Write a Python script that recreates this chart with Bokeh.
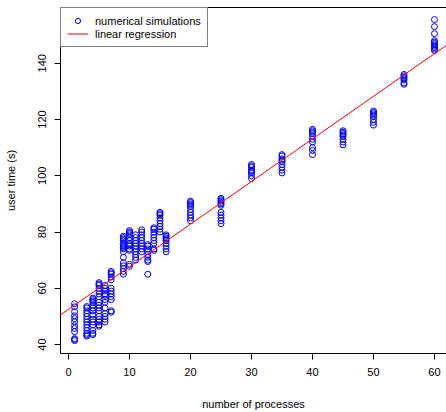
from bokeh.plotting import figure
from bokeh.models import Range1d, FixedTicker, Slope, Legend, LegendItem, ColumnDataSource, LinearAxis
from bokeh.embed import file_html
from bokeh.resources import INLINE

# ---- data ----
processes = [1, 3, 4, 5, 6, 7, 9, 10, 11, 12, 13, 14, 15, 16, 20, 25, 30, 35, 40, 45, 50, 55, 60]
user_times = [
    [54.5, 53.4, 51.7, 50.2, 49.2, 48.1, 46.7, 45.7, 44.6, 42.1, 41.8, 41.4],             # 1
    [53.5, 53, 52, 51, 50, 49, 48, 47, 46, 45, 44, 43.5, 43],                             # 3
    [56.5, 56, 55.5, 55, 54, 53, 52, 50.5, 49, 48, 47, 45, 44, 43.5],                     # 4
    [62, 61.5, 61, 60, 59, 58, 57, 55, 54, 53, 52, 50, 49, 48, 47, 46.5],                 # 5
    [61, 60, 59, 58, 57.5, 56, 55, 53, 51, 50, 49, 48],                                   # 6
    [66, 65.5, 65, 64, 63, 60, 59, 58, 57, 56, 52, 51.5],                                 # 7
    [78.5, 78, 77.5, 77, 76, 75.5, 75, 74.5, 74, 73, 71, 69, 68, 67, 66, 65],             # 9
    [80.5, 80, 79.5, 79, 78, 77, 76, 75.5, 75, 74, 73.5, 68.5, 67.8],                     # 10
    [79, 78, 77, 76, 75, 74, 73, 72, 71, 70],                                             # 11
    [80.8, 80, 79, 78, 77, 76, 75, 74, 73],                                               # 12
    [75.5, 75, 74, 73, 72, 71, 70, 69.5, 65],                                             # 13
    [81.5, 81, 80, 79, 78, 77, 76, 74, 73.5],                                             # 14
    [87, 86.5, 86, 85, 84, 83, 82, 81, 80],                                               # 15
    [79, 78.5, 78, 77.5, 77, 76, 75, 74, 73],                                             # 16
    [91, 90.5, 90, 89.5, 89, 88, 87, 86, 85, 84],                                         # 20
    [92, 91.5, 91, 90.5, 90, 89.5, 87, 86, 85, 84, 83],                                   # 25
    [104, 103.5, 103, 102, 101.5, 101, 100, 99],                                          # 30
    [107.5, 107, 106, 105.5, 105, 104, 103, 102, 101],                                    # 35
    [116.5, 116, 115.5, 115, 114, 113, 112, 110, 109, 107.5],                             # 40
    [116, 115.5, 115, 114.5, 114, 113, 112, 111],                                         # 45
    [123, 122.5, 122, 121.5, 121, 120, 119, 118],                                         # 50
    [136, 135.5, 135, 134.5, 134, 133, 132.5],                                            # 55
    [155.5, 153, 150.5, 148, 147.5, 147, 146.5, 146, 145.5, 145, 144.5],                  # 60
]
reg_intercept = 52.5
reg_slope = 1.515

x_ticks = [0, 10, 20, 30, 40, 50, 60]
y_ticks = [40, 60, 80, 100, 120, 140]

x_label = "number of processes"
y_label = "user time (s)"
legend_points = "numerical simulations"
legend_line = "linear regression"

# ---- build ----
xs, ys = [], []
for n, times in zip(processes, user_times):
    for t in times:
        xs.append(n)
        ys.append(t)
src = ColumnDataSource(data=dict(x=xs, y=ys))

FONT = "Liberation Sans"

p = figure(width=446, height=412, output_backend="svg", toolbar_location=None,
           x_range=Range1d(-1.31, 61.97), y_range=Range1d(36.82, 159.8),
           min_border_left=60, min_border_right=0, min_border_top=7, min_border_bottom=57)
p.background_fill_color = "white"
p.border_fill_color = "white"
p.outline_line_color = None
p.xgrid.visible = False
p.ygrid.visible = False

for ax in (p.xaxis[0], p.yaxis[0]):
    ax.axis_line_color = "black"
    ax.major_tick_line_color = "black"
    ax.major_tick_in = 0
    ax.major_tick_out = 6
    ax.minor_tick_line_color = None
    ax.major_label_text_font = FONT
    ax.major_label_text_font_size = "11px"
    ax.major_label_text_color = "black"
    ax.major_label_standoff = 8
    ax.axis_label_text_font = FONT
    ax.axis_label_text_font_size = "11px"
    ax.axis_label_text_font_style = "normal"
    ax.axis_label_text_color = "black"

p.xaxis.ticker = FixedTicker(ticks=x_ticks)
p.yaxis.ticker = FixedTicker(ticks=y_ticks)
p.yaxis.major_label_orientation = "parallel"
p.xaxis.axis_label = x_label
p.yaxis.axis_label = y_label
p.xaxis.axis_label_standoff = 19
p.yaxis.axis_label_standoff = 19

# top side of the box (the right side lies outside the picture)
top_axis = LinearAxis(ticker=FixedTicker(ticks=[]), axis_line_color="black",
                      major_tick_out=0, major_tick_in=0, minor_tick_out=0, minor_tick_in=0,
                      major_label_text_font_size="0px", major_label_standoff=0)
p.add_layout(top_axis, "above")

pts = p.scatter("x", "y", source=src, marker="circle", size=6,
                fill_color=None, line_color="#0000ff", line_width=1)

reg = Slope(gradient=reg_slope, y_intercept=reg_intercept, line_color="#ff0000", line_width=1)
p.add_layout(reg)

# legend proxy for the regression line (draws nothing in the plot)
legend_proxy = p.line(x=[float("nan")], y=[float("nan")], line_color="#ff0000", line_width=1)

legend = Legend(items=[LegendItem(label=legend_points, renderers=[pts]),
                       LegendItem(label=legend_line, renderers=[legend_proxy])],
                location="top_left", margin=0, padding=6, spacing=0,
                glyph_width=21, glyph_height=13, label_height=13, label_standoff=7,
                border_line_color="black", border_line_width=1,
                background_fill_color="white", background_fill_alpha=1,
                label_text_font=FONT, label_text_font_size="11px", label_text_color="black")
p.add_layout(legend)

open("out.html", "w").write(file_html(p, INLINE))
